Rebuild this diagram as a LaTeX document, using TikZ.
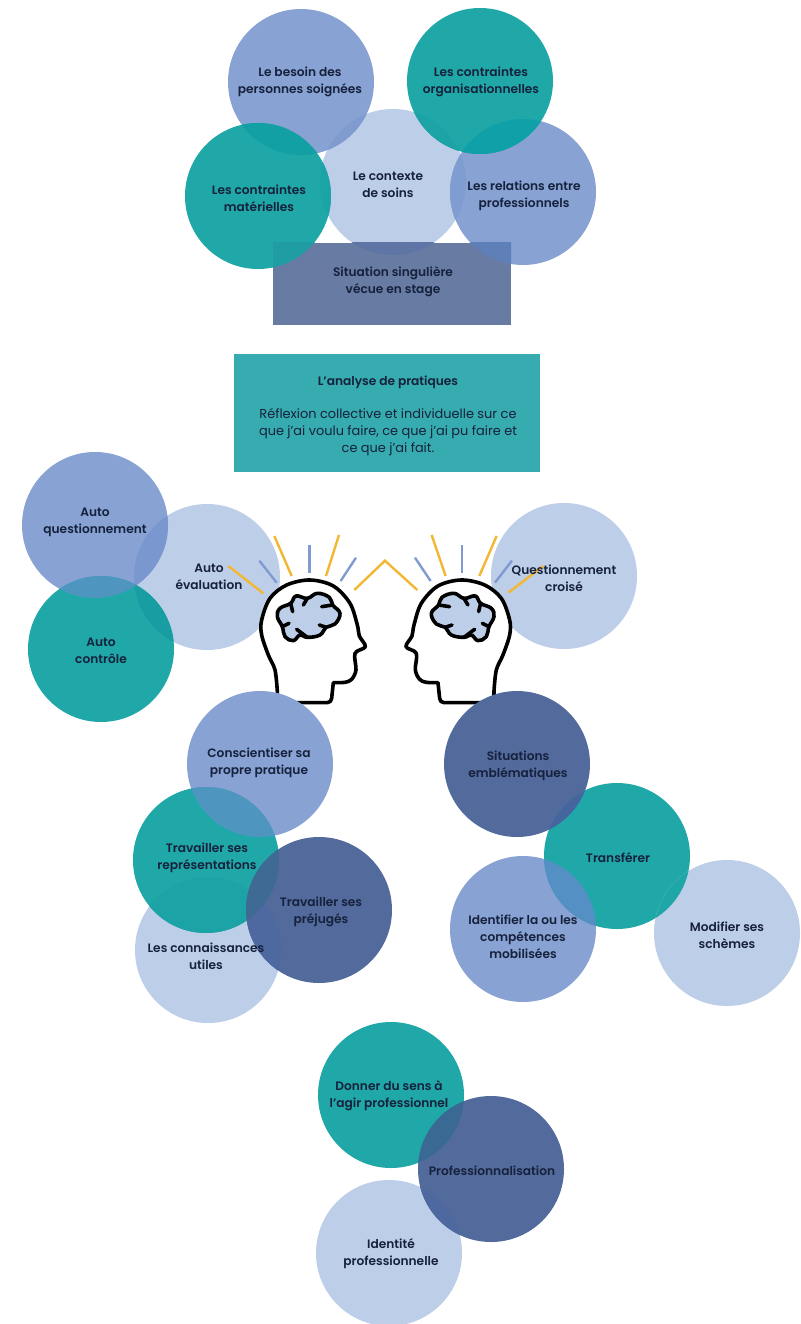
\documentclass[tikz,border=0pt]{standalone}
\usepackage{fontspec}
\setmainfont{Poppins}[BoldFont={Poppins SemiBold}]
\definecolor{cteal}{HTML}{20A8A8}
\definecolor{cmid}{HTML}{88A2D4}
\definecolor{clight}{HTML}{BDCEE8}
\definecolor{cdark}{HTML}{536A9C}
\definecolor{cbox}{HTML}{36ABB0}
\definecolor{crect}{HTML}{677BA3}
\definecolor{cink}{HTML}{16213C}
\definecolor{cyel}{HTML}{F2B833}
\definecolor{cray}{HTML}{7F9BD2}
\newcommand{\headshape}{%
  plot[smooth,tension=0.55] coordinates {(172,545)(165,480)(145,435)(125,375)(125,330)(150,265)(200,225)(270,210)(340,228)(390,280)(412,345)(418,378)(436,410)(405,430)(408,480)(395,508)(375,517)(340,518)}
  -- (335,565) to[out=-90,in=0] (322,578) -- (185,578) to[out=180,in=-90] (172,545)}
\newcommand{\brainshape}{%
  plot[smooth cycle,tension=0.7] coordinates {(172,320)(180,295)(212,280)(228,258)(262,265)(292,250)(328,262)(338,285)(360,310)(345,342)(318,352)(300,375)(262,382)(240,375)(220,392)(195,380)(187,350)}}
\newcommand{\lens}[3]{\begin{scope}\definecolor{tmpc}{HTML}{#3}\clip (#1) circle (73);\fill[tmpc] (#2) circle (73);\end{scope}}
\newcommand{\rectlens}[2]{\begin{scope}\definecolor{tmpc}{HTML}{#2}\clip (sit.north west) rectangle (sit.south east);\fill[tmpc] (#1) circle (73);\end{scope}}
\begin{document}
\begin{tikzpicture}[x=1pt,y=-1pt,
  every node/.style={inner sep=0pt,outer sep=0pt},
  disc/.style={circle,minimum size=146pt},
  dteal/.style={disc,fill=cteal},
  dmid/.style={disc,fill=cmid},
  dlight/.style={disc,fill=clight},
  ddark/.style={disc,fill=cdark},
  lab/.style={align=center,text=cink,yshift=-0.7pt,font=\fontsize{12.2}{17}\selectfont\bfseries},
  bodytext/.style={align=center,text=cink,yshift=-0.7pt,font=\fontsize{12.9}{17}\selectfont},
  rayy/.style={cyel,line width=2.4pt},
  rayb/.style={cray,line width=2.4pt},
  headline/.style={draw=black,line width=3.6pt,line join=round,line cap=round}]
\useasboundingbox (0,0) rectangle (800,1324);
\fill[white] (0,0) rectangle (800,1324);
% top cluster
\node[dlight] (ctx) at (393,182) {};
\node[dmid] (bes) at (301,82) {};
\node[dmid] (rel) at (523,192) {};
\node[dteal] (org) at (480,81) {};
\node[dteal] (mat) at (258,196) {};
\lens{bes}{ctx}{7F9BD0}
\lens{rel}{ctx}{7F9DD1}
\lens{org}{ctx}{1BA3A6}
\lens{mat}{ctx}{1BA3A6}
\lens{bes}{mat}{12A0A4}
\lens{org}{rel}{10A0A8}
\node[minimum width=238pt,minimum height=82pt,fill=crect] (sit) at (392,284) {};
\rectlens{ctx}{5E75A5}
\rectlens{mat}{1F9DA2}
\rectlens{rel}{5F7FB8}
% centre box
\node[minimum width=306pt,minimum height=118pt,fill=cbox] (ana) at (387,413) {};
% left and right upper
\node[dlight] (eva) at (207,577) {};
\node[dmid] (aq) at (95,525) {};
\node[dteal] (ac) at (101,649) {};
\node[dlight] (qc) at (564,576) {};
\lens{aq}{eva}{7B97D0}
\lens{ac}{eva}{189EA2}
\lens{aq}{ac}{4E96C0}
% heads
\begin{scope}[shift={(220,510)},x=0.3333pt,y=-0.3333pt]
  \draw[rayy] (25,168) -- (130,250);
  \draw[rayb] (118,152) -- (170,218);
  \draw[rayy] (163,78) -- (215,198);
  \draw[rayb] (268,105) -- (268,188);
  \draw[rayy] (357,75) -- (318,198);
  \draw[rayb] (408,143) -- (362,213);
  \draw[rayy] (403,240) -- (495,152) -- (592,240);
  \draw[rayb] (585,143) -- (632,213);
  \draw[rayy] (635,75) -- (677,198);
  \draw[rayb] (726,105) -- (726,188);
  \draw[rayy] (830,78) -- (778,198);
  \draw[rayb] (876,152) -- (825,218);
  \draw[rayy] (970,168) -- (865,248);
  \foreach \tx/\sx in {0/1,994/-1}{
    \begin{scope}[shift={(\tx*1pt*0.3333,0)},xscale=\sx]
      \draw[headline,fill=white] \headshape -- cycle;
      \draw[headline,fill=clight] \brainshape;
      \draw[headline] (212,280) -- (218,305);
      \draw[headline] (262,265) -- (250,285);
      \draw[headline] (338,285) -- (305,290);
      \draw[headline] (318,352) -- (298,345);
      \draw[headline] (262,382) -- (230,358);
      \draw[headline] (187,350) -- (207,340);
    \end{scope}}
\end{scope}
% mid left
\node[dmid] (con) at (260,764) {};
\node[dlight] (cnx) at (208,950) {};
\node[dteal] (rep) at (206,860) {};
\node[ddark] (pre) at (319,910) {};
\lens{con}{rep}{4E96C0}
\lens{rep}{cnx}{1CA3A5}
\lens{pre}{cnx}{4E68A0}
\lens{rep}{pre}{3F6A94}
% mid right
\node[ddark] (sem) at (517,764) {};
\node[dmid] (ide) at (523,929) {};
\node[dteal] (tra) at (617,856) {};
\node[dlight] (sch) at (727,933) {};
\lens{sem}{tra}{46659F}
\lens{ide}{tra}{5490C4}
\lens{tra}{sch}{1FA6A6}
% bottom
\node[dlight] (idp) at (389,1253) {};
\node[dteal] (don) at (391,1095) {};
\node[ddark] (pro) at (491,1169) {};
\lens{don}{pro}{3A6A94}
\lens{pro}{idp}{4E68A0}
% labels
\node[lab] at (300,81) {Le besoin des\\personnes soignées};
\node[lab] at (481,81) {Les contraintes\\organisationnelles};
\node[lab] at (388,184) {Le contexte\\de soins};
\node[lab] at (259,198) {Les contraintes\\matérielles};
\node[lab] at (524,195) {Les relations entre\\professionnels};
\node[lab] at (393,281) {Situation singulière\\vécue en stage};
\node[lab] at (388,382) {L’analyse de pratiques};
\node[bodytext] at (388,431) {Réflexion collective et individuelle sur ce\\que j’ai voulu faire, ce que j’ai pu faire et\\ce que j’ai fait.};
\node[lab] at (95,522) {Auto\\questionnement};
\node[lab] at (209,576) {Auto\\évaluation};
\node[lab] at (101,650) {Auto\\contrôle};
\node[lab] at (564,578) {Questionnement\\croisé};
\node[lab] at (259,762) {Conscientiser sa\\propre pratique};
\node[lab] at (207,857) {Travailler ses\\représentations};
\node[lab] at (321,911) {Travailler ses\\préjugés};
\node[lab] at (206,956) {Les connaissances\\utiles};
\node[lab] at (518,765) {Situations\\emblématiques};
\node[lab] at (618,857) {Transférer};
\node[lab] at (523,936) {Identifier la ou les\\compétences\\mobilisées};
\node[lab] at (727,935) {Modifier ses\\schèmes};
\node[lab] at (389,1095) {Donner du sens à\\l’agir professionnel};
\node[lab] at (492,1170) {Professionnalisation};
\node[lab] at (391,1253) {Identité\\professionnelle};
\end{tikzpicture}
\end{document}
